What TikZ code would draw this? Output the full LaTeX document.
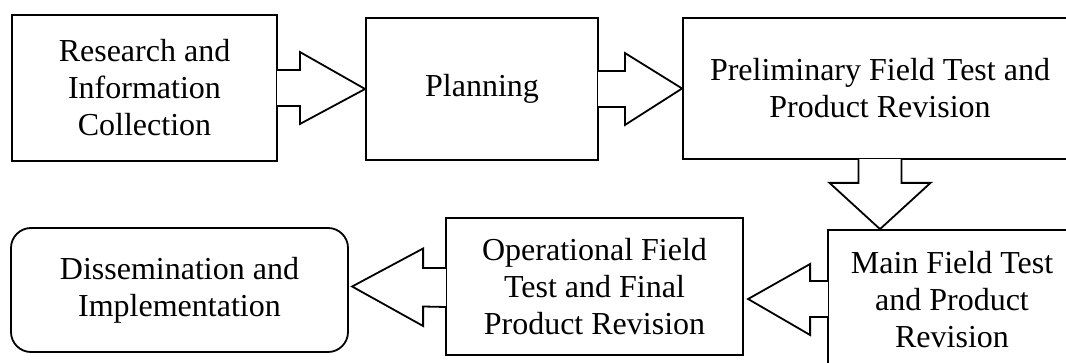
\documentclass[tikz,border=0pt]{standalone}
\usepackage{fontspec}
\setmainfont{Liberation Serif}
\usetikzlibrary{calc}
\begin{document}
\begin{tikzpicture}[x=1pt,y=1pt,
  stage/.style={draw, line width=1.8pt, align=center, inner sep=0pt,
    font=\fontsize{32}{37}\selectfont},
  blockarrow/.style={draw, fill=white, line width=1.8pt, line join=miter}]
\useasboundingbox (0,0) rectangle (1066,-363);
\clip (0,0) rectangle (1066,-363);

% development stages
\node[stage, minimum width=265, minimum height=146] (r1) at (144.5,-88)
  {Research and\\Information\\Collection};
\node[stage, minimum width=232, minimum height=142] (r2) at (482,-89)
  {Planning};
\node[stage, minimum width=394, minimum height=141] (r3) at (880,-88.5)
  {Preliminary Field Test and\\Product Revision};
\node[stage, minimum width=248, minimum height=140] (r4) at (952,-300)
  {Main Field Test\\and Product\\Revision};
\node[stage, minimum width=297, minimum height=137] (r5) at (594.5,-286.5)
  {Operational Field\\Test and Final\\Product Revision};
\node[stage, rounded corners=20pt, minimum width=337, minimum height=124] (r6) at (179.5,-290)
  {Dissemination and\\Implementation};

% block arrows between the stages
\path[blockarrow] ($(r1.east)+(-0.8,18)$) -- ++(22.8,0) -- ++(0,18) -- (r2.west)
  -- ($(r1.east)+(22,-36)$) -- ++(0,18) -- ($(r1.east)+(-0.8,-18)$);
\path[blockarrow] ($(r2.east)+(-0.8,18)$) -- ++(26.8,0) -- ++(0,18) -- (r3.west)
  -- ($(r2.east)+(26,-36)$) -- ++(0,18) -- ($(r2.east)+(-0.8,-18)$);
\path[blockarrow] ($(r3.south)+(-21.5,0.8)$) -- ++(0,-23.8) -- ++(-29,0) -- (r3.south |- r4.north)
  -- ($(r3.south)+(50.5,-23)$) -- ++(-29,0) -- ($(r3.south)+(21.5,0.8)$);
\path[blockarrow] ($(r4.west)+(0.8,19)$) -- ++(-17.8,0) -- ++(0,17) -- ($(r4.west)+(-79,1)$)
  -- ($(r4.west)+(-17,-35)$) -- ++(0,18) -- ($(r4.west)+(0.8,-17)$);
\path[blockarrow] ($(r5.west)+(0.8,18.5)$) -- ++(-22.8,0) -- ++(0,19.5) -- ($(r5.west)+(-93,0)$)
  -- ($(r5.west)+(-22,-39.5)$) -- ++(0,19.5) -- ($(r5.west)+(0.8,-20.5)$);
\end{tikzpicture}
\end{document}
